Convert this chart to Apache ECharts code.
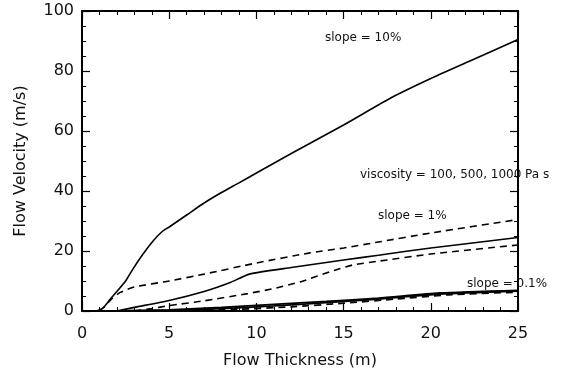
<!DOCTYPE html>
<html>
<head>
<meta charset="utf-8">
<script src="https://cdn.jsdelivr.net/npm/echarts@6/dist/echarts.min.js"></script>
<style>
  html, body { margin: 0; padding: 0; background: #fff; }
  #chart { width: 567px; height: 374px; }
</style>
</head>
<body>
<div id="chart"></div>
<script>
// [flow thickness (m), velocity (m/s)]
var slope10 = [[0.8, 0], [1.2, 1], [1.6, 3.8], [2, 6.5], [2.5, 10], [2.9, 13.8], [3.5, 19], [4.1, 23.5],
  [4.6, 26.5], [5, 28], [6, 32], [7, 36], [8, 39.5], [9, 42.7], [10, 46], [12, 52.5], [15, 62],
  [17.7, 71], [20, 77.5], [22.5, 84], [25, 90.5]];
var slope1Visc100 = [[1, 0], [1.3, 1.5], [1.7, 4], [2.2, 6.2], [3, 8], [5, 10], [7, 12.3], [10, 16],
  [13, 19.3], [15, 21], [17, 23], [20, 26], [25, 30.5]];
var slope1Visc500 = [[2, 0], [3, 1.2], [5, 3.5], [7, 6.5], [8.5, 9.5], [9.6, 12.3], [12, 14.5],
  [15, 17], [17, 18.6], [20, 21], [25, 24.5]];
var slope1Visc1000 = [[3, 0], [4, 0.8], [5, 1.8], [7, 3.4], [9.5, 5.8], [11, 7.5], [12.5, 9.7],
  [14.5, 13.6], [15.5, 15.3], [17, 16.6], [20, 19], [25, 22]];
var slope01Visc100 = [[2, 0], [5, 0.4], [8, 1.2], [11, 2.2], [14, 3.2], [17, 4.3], [20.5, 6], [25, 6.9]];
var slope01Visc500 = [[2.5, 0], [5, 0.2], [8, 0.8], [11, 1.7], [14, 2.8], [17, 4], [20.5, 5.6], [25, 6.6]];
var slope01Visc1000 = [[3, 0], [6, 0.2], [9, 0.6], [12, 1.4], [15, 2.6], [18, 4], [21, 5.4], [25, 6.3]];

var xTicks = [0, 5, 10, 15, 20, 25];
var yTicks = [0, 20, 40, 60, 80, 100];

var chart = echarts.init(document.getElementById('chart'));
var font = 'DejaVu Sans, Liberation Sans, sans-serif';

function axisBase(show) {
  return {
    type: 'value',
    axisLine: { show: true, onZero: false, lineStyle: { color: '#000', width: 2 } },
    axisTick: { show: true, inside: true, length: 8, lineStyle: { color: '#000', width: 1.2 } },
    minorTick: { show: true, splitNumber: 5, length: 4, lineStyle: { color: '#000', width: 1 } },
    splitLine: { show: false },
    axisLabel: { show: show, color: '#111', fontSize: 16, fontFamily: font }
  };
}

var xBottom = axisBase(true);
xBottom.min = xTicks[0];
xBottom.max = xTicks[xTicks.length - 1];
xBottom.interval = 5;
xBottom.position = 'bottom';
xBottom.name = 'Flow Thickness (m)';
xBottom.nameLocation = 'middle';
xBottom.nameGap = 42;
xBottom.nameTextStyle = { color: '#111', fontSize: 16, fontFamily: font };
xBottom.axisLabel.margin = 15;

var xTop = axisBase(false);
xTop.min = xBottom.min;
xTop.max = xBottom.max;
xTop.interval = 5;
xTop.position = 'top';

var yLeft = axisBase(true);
yLeft.min = yTicks[0];
yLeft.max = yTicks[yTicks.length - 1];
yLeft.interval = 20;
yLeft.position = 'left';
yLeft.minorTick.splitNumber = 4;
yLeft.name = 'Flow Velocity (m/s)';
yLeft.nameLocation = 'middle';
yLeft.nameGap = 53;
yLeft.nameTextStyle = { color: '#111', fontSize: 16, fontFamily: font };
yLeft.axisLabel.margin = 8;

var yRight = axisBase(false);
yRight.min = yLeft.min;
yRight.max = yLeft.max;
yRight.interval = 20;
yRight.position = 'right';
yRight.minorTick.splitNumber = 4;

function line(data, dashed, width) {
  return {
    type: 'line',
    data: data,
    showSymbol: false,
    smooth: 0.2,
    silent: true,
    lineStyle: { color: '#000', width: width || 1.6, type: dashed ? [7, 5] : 'solid' }
  };
}

var noteStyle = { fontSize: 12, fontFamily: font, fill: '#111' };
function note(text, left, top) {
  return { type: 'text', left: left, top: top, style: Object.assign({ text: text }, noteStyle) };
}

chart.setOption({
  animation: false,
  backgroundColor: '#fff',
  grid: { left: 82, top: 11, right: 49, bottom: 54 },
  xAxis: [xBottom, xTop],
  yAxis: [yLeft, yRight],
  series: [
    line(slope10, false),
    line(slope1Visc100, true),
    line(slope1Visc500, false),
    line(slope1Visc1000, true),
    line(slope01Visc100, false, 1.8),
    line(slope01Visc500, false, 1.8),
    line(slope01Visc1000, true, 1.8)
  ],
  graphic: [
    note('slope = 10%', 325, 32),
    note('viscosity = 100, 500, 1000 Pa s', 360, 169),
    note('slope = 1%', 378, 210),
    note('slope = 0.1%', 467, 278)
  ]
});
</script>
</body>
</html>
